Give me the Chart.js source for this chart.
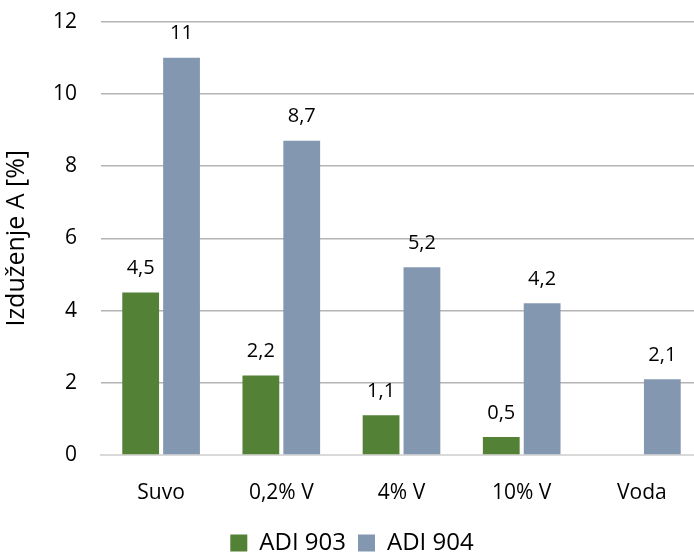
<!DOCTYPE html>
<html>
<head>
<meta charset="utf-8">
<script src="https://cdn.jsdelivr.net/npm/chart.js@4"></script>
<style>
  html, body { margin: 0; padding: 0; background: #fff; overflow: hidden; }
  #wrap { width: 712px; height: 553px; position: relative; overflow: hidden; }
  #chart { position: absolute; left: 0; top: -15px; }
</style>
</head>
<body>
<div id="wrap"><canvas id="chart" width="712" height="580"></canvas></div>
<script>
const categories = ["Suvo", "0,2% V", "4% V", "10% V", "Voda"];
const adi903 = [4.5, 2.2, 1.1, 0.5, null];
const adi904 = [11, 8.7, 5.2, 4.2, 2.1];
const seriesNames = ["ADI 903", "ADI 904"];
const yTicks = [0, 2, 4, 6, 8, 10, 12];

const fontFamily = "'Open Sans', 'Noto Sans', sans-serif";

// etiquettes au-dessus des barres, virgule décimale
const barLabels = {
  id: "barLabels",
  afterDatasetsDraw(chart) {
    const ctx = chart.ctx;
    ctx.save();
    ctx.font = "20px " + fontFamily;
    ctx.fillStyle = "#000";
    ctx.textAlign = "center";
    ctx.textBaseline = "bottom";
    chart.data.datasets.forEach((ds, i) => {
      chart.getDatasetMeta(i).data.forEach((bar, j) => {
        const v = ds.data[j];
        if (v === null) return;
        ctx.fillText(String(v).replace(".", ","), bar.x, bar.y - 14);
      });
    });
    ctx.restore();
  }
};

new Chart(document.getElementById("chart"), {
  type: "bar",
  plugins: [barLabels],
  data: {
    labels: categories,
    datasets: [
      { label: seriesNames[0], data: adi903, backgroundColor: "#538135" },
      { label: seriesNames[1], data: adi904, backgroundColor: "#8497b0" }
    ]
  },
  options: {
    responsive: false,
    animation: false,
    layout: { padding: { top: 0, right: 10, left: 2, bottom: 0 } },
    datasets: { bar: { categoryPercentage: 0.68, barPercentage: 0.9 } },
    plugins: {
      tooltip: { enabled: false },
      legend: {
        position: "bottom",
        labels: {
          color: "#000",
          font: { size: 24, family: fontFamily },
          boxWidth: 17,
          boxHeight: 17,
          padding: 12
        }
      }
    },
    scales: {
      x: {
        grid: { display: false, drawTicks: false },
        border: { color: "#d9d9d9", width: 2 },
        ticks: { color: "#000", font: { size: 21, family: fontFamily }, padding: 25 },
        afterFit: s => { s.height = 64; }
      },
      y: {
        min: 0,
        max: 12,
        afterBuildTicks: s => { s.ticks = yTicks.map(v => ({ value: v })); },
        afterFit: s => { s.width = 99; },
        grid: { color: "#b4b4b4", lineWidth: 1.5, drawTicks: false },
        border: { display: false },
        ticks: { color: "#000", font: { size: 21, family: fontFamily }, padding: 24 },
        title: {
          display: true,
          text: "Izduženje A [%]",
          color: "#000",
          font: { size: 25, family: fontFamily },
          padding: 0
        }
      }
    }
  }
});
</script>
</body>
</html>
